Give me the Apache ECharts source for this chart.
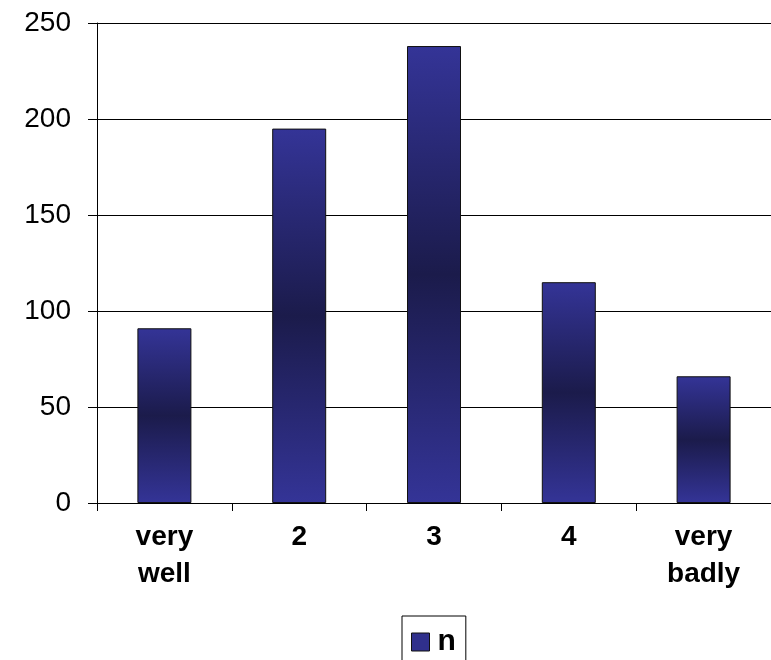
<!DOCTYPE html>
<html>
<head>
<meta charset="utf-8">
<script src="https://cdn.jsdelivr.net/npm/echarts@6/dist/echarts.min.js"></script>
<style>
  html, body { margin: 0; padding: 0; background: #fff; }
  #chart { width: 771px; height: 660px; }
</style>
</head>
<body>
<div id="chart"></div>
<script>
  // data
  var categories = ['very\nwell', '2', '3', '4', 'very\nbadly'];
  var seriesName = 'n';
  var values = [91, 195, 238, 115, 66];
  var yTicks = [0, 50, 100, 150, 200, 250];

  var barFill = new echarts.graphic.LinearGradient(0, 0, 0, 1, [
    { offset: 0, color: '#343497' },
    { offset: 0.5, color: '#1b1b4b' },
    { offset: 1, color: '#343497' }
  ]);

  var chart = echarts.init(document.getElementById('chart'));
  chart.setOption({
    animation: false,
    grid: { left: 97, right: 0, top: 23, bottom: 157 },
    legend: {
      data: [seriesName],
      icon: 'rect',
      left: 402,
      top: 616,
      itemWidth: 18,
      itemHeight: 18,
      itemGap: 0,
      padding: [11, 10, 11, 9],
      borderColor: '#000',
      borderWidth: 1,
      itemStyle: { color: '#30308c', borderColor: '#111', borderWidth: 1 },
      textStyle: {
        fontFamily: 'Liberation Sans', fontSize: 30, fontWeight: 'bold', color: '#000',
        padding: [0, 0, 0, 3]
      }
    },
    xAxis: {
      type: 'category',
      data: categories,
      axisLine: { lineStyle: { color: '#000', width: 1 } },
      axisTick: { show: true, length: 8, lineStyle: { color: '#000' } },
      axisLabel: {
        fontFamily: 'Liberation Sans', fontSize: 28, fontWeight: 'bold', color: '#000',
        margin: 16, lineHeight: 37, interval: 0
      }
    },
    yAxis: {
      type: 'value',
      min: yTicks[0],
      max: yTicks[yTicks.length - 1],
      interval: 50,
      axisLine: { show: true, lineStyle: { color: '#000', width: 1 } },
      axisTick: { show: true, length: 9, lineStyle: { color: '#000' } },
      splitLine: { lineStyle: { color: '#000', width: 1 } },
      axisLabel: { fontFamily: 'Liberation Sans', fontSize: 28, color: '#000', margin: 26 }
    },
    series: [{
      name: seriesName,
      type: 'bar',
      data: values,
      barWidth: 54,
      itemStyle: { color: barFill, borderColor: '#111', borderWidth: 1 }
    }]
  });
</script>
</body>
</html>
